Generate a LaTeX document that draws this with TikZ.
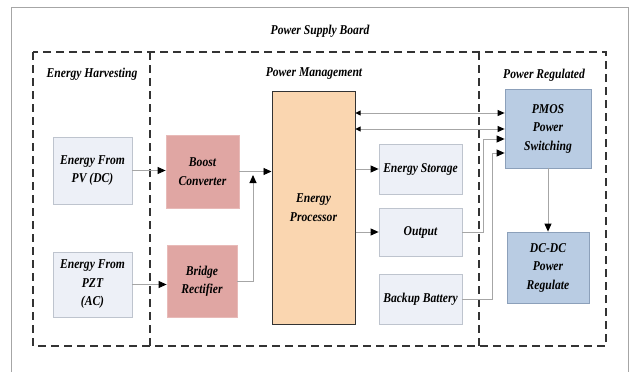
\documentclass[tikz,border=0pt]{standalone}
\usepackage{fontspec}
\setmainfont{Liberation Serif}[FakeStretch=0.86]
\usepackage{tikz}
\usetikzlibrary{arrows.meta,calc}

\definecolor{lightfill}{RGB}{237,240,247}
\definecolor{lightedge}{RGB}{190,196,206}
\definecolor{pinkfill}{RGB}{224,166,163}
\definecolor{pinkedge}{RGB}{232,186,184}
\definecolor{peachfill}{RGB}{250,214,176}
\definecolor{bluefill}{RGB}{185,204,227}
\definecolor{blueedge}{RGB}{140,160,186}

\begin{document}
\begin{tikzpicture}[x=1pt, y=-1pt,
    font=\fontsize{13.5}{18.5}\selectfont\bfseries\itshape,
    every node/.style={align=center, inner sep=0pt},
    srcbox/.style={draw=lightedge, fill=lightfill, line width=0.8pt},
    convbox/.style={draw=pinkedge, fill=pinkfill, line width=0.8pt},
    procbox/.style={draw=black!80, fill=peachfill, line width=1pt},
    regbox/.style={draw=blueedge, fill=bluefill, line width=0.8pt},
    zone/.style={draw=black!80, line width=1.3pt, dash pattern=on 8pt off 5pt},
    link/.style={draw=black!35, line width=0.9pt, -{Triangle[length=8pt,width=7pt,color=black]}},
    twoway/.style={draw=black!35, line width=0.9pt, {Triangle[length=5pt,width=5pt,color=black]}-{Triangle[length=7pt,width=6pt,color=black]}}]
  \useasboundingbox (0,0) rectangle (631,372);
  % frame and zones
  \draw[black!35, line width=0.8pt] (11,372) -- (11,7) -- (628,7) -- (628,372);
  \node (board) at (320,31) {Power Supply Board};
  \draw[zone] (33,52) rectangle (606,346);
  \draw[zone] (150,52) -- (150,346);
  \draw[zone] (479,52) -- (479,346);
  \node (harvest) at (92,74) {Energy Harvesting};
  \node (manage) at (314,74) {Power Management};
  \node (regul) at (544,75) {Power Regulated};

  % blocks
  \node[srcbox, minimum width=79, minimum height=67] (pv) at (92.5,170.5) {Energy From\\PV (DC)};
  \node[srcbox, minimum width=79, minimum height=65] (pzt) at (92.5,284.5) {Energy From\\PZT\\(AC)};
  \node[convbox, minimum width=73, minimum height=73] (boost) at (202.5,171.5) {Boost\\Converter};
  \node[convbox, minimum width=70, minimum height=72] (bridge) at (202,281) {Bridge\\Rectifier};
  \node[procbox, minimum width=83, minimum height=233] (proc) at (313.5,207.5) {Energy\\Processor};
  \node[srcbox, minimum width=83, minimum height=50] (storage) at (420.5,169) {Energy Storage};
  \node[srcbox, minimum width=83, minimum height=48] (output) at (420.5,232) {Output};
  \node[srcbox, minimum width=83, minimum height=50] (backup) at (420.5,299) {Backup Battery};
  \node[regbox, minimum width=86, minimum height=79] (pmos) at (548,128.5) {PMOS\\Power\\Switching};
  \node[regbox, minimum width=82, minimum height=71] (dcdc) at (548,267.5) {DC-DC\\Power\\Regulate};

  % connectors
  \coordinate (join) at (253,175);
  \coordinate (bus1) at ($(pmos.west)+(0,-15.5)$);
  \coordinate (bus2) at ($(pmos.west)+(0,0.5)$);
  \coordinate (outin) at ($(pmos.west)+(0,10.5)$);
  \coordinate (batin) at ($(pmos.west)+(0,24.5)$);
  \draw[link] (pv.east) -- (pv.east -| boost.west);
  \draw[link] (pzt.east) -- (pzt.east -| bridge.west);
  \draw[link] (boost.east) -- (boost.east -| proc.west);
  \draw[link] (bridge.east) -| (join);
  \draw[link] (storage.west -| proc.east) -- (storage.west);
  \draw[link] (output.west -| proc.east) -- (output.west);
  \draw[twoway] (bus1 -| proc.east) -- (bus1);
  \draw[twoway] (bus2 -| proc.east) -- (bus2);
  \draw[link] (output.east) -- ++(21,0) |- (outin);
  \draw[link] (backup.east) -- ++(30,0) |- (batin);
  \draw[link] (pmos.south) -- (dcdc.north);
\end{tikzpicture}
\end{document}
